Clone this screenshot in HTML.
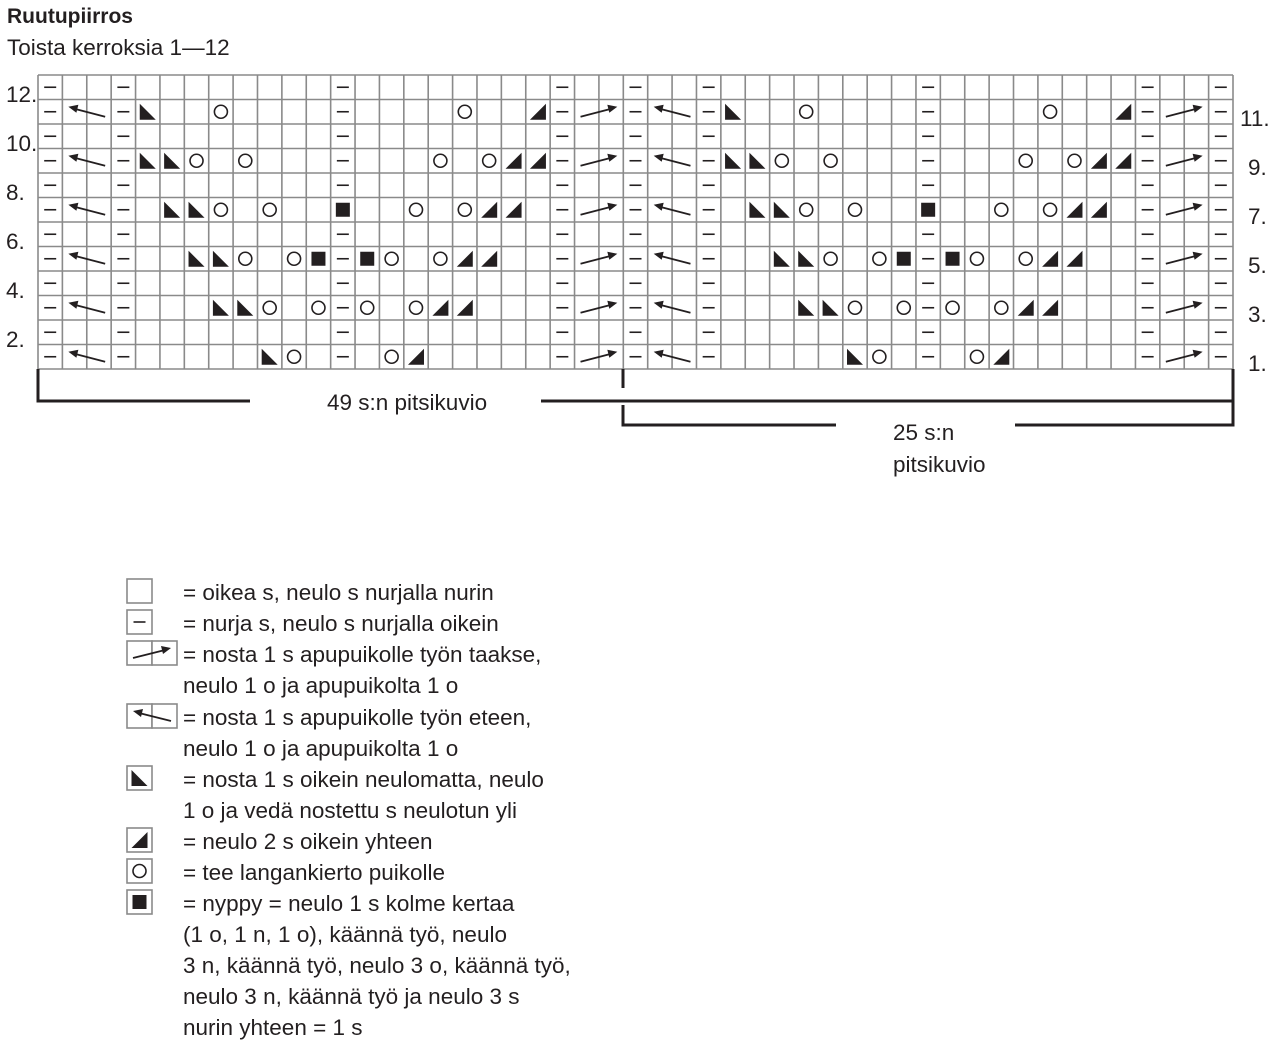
<!DOCTYPE html>
<html><head><meta charset="utf-8">
<style>
html,body{margin:0;padding:0;background:#fff;}
svg{display:block;}
text{font-family:"Liberation Sans",sans-serif;fill:#231f20;}
</style></head>
<body>
<svg id="s" width="1280" height="1047" viewBox="0 0 1280 1047" xmlns="http://www.w3.org/2000/svg">
<text x="7" y="23" font-size="21" font-weight="bold">Ruutupiirros</text>
<text x="7" y="55" font-size="22.5">Toista kerroksia 1—12</text>
<g font-size="22.5">
<text x="6" y="102">12.</text>
<text x="6" y="151">10.</text>
<text x="6" y="200">8.</text>
<text x="6" y="249">6.</text>
<text x="6" y="298">4.</text>
<text x="6" y="347">2.</text>
<text x="1240" y="126">11.</text>
<text x="1248" y="175">9.</text>
<text x="1248" y="224">7.</text>
<text x="1248" y="273">5.</text>
<text x="1248" y="322">3.</text>
<text x="1248" y="371">1.</text>
</g>
<g id="grid"></g>
<g stroke="#231f20" stroke-width="3" fill="none">
<path d="M38,369 V401 H250 M541,401 H1233 V369"/>
<path d="M623,369 V388 M623,405 V425 H836 M1015,425 H1233 V401"/>
</g>
<g font-size="22.5">
<text x="327" y="410">49 s:n pitsikuvio</text>
<text x="893" y="440">25 s:n</text>
<text x="893" y="472">pitsikuvio</text>
</g>
<g id="leg"></g>
<g font-size="22.5">
<text x="183" y="600">= oikea s, neulo s nurjalla nurin</text>
<text x="183" y="631">= nurja s, neulo s nurjalla oikein</text>
<text x="183" y="662">= nosta 1 s apupuikolle työn taakse,</text>
<text x="183" y="693">neulo 1 o ja apupuikolta 1 o</text>
<text x="183" y="725">= nosta 1 s apupuikolle työn eteen,</text>
<text x="183" y="756">neulo 1 o ja apupuikolta 1 o</text>
<text x="183" y="787">= nosta 1 s oikein neulomatta, neulo</text>
<text x="183" y="818">1 o ja vedä nostettu s neulotun yli</text>
<text x="183" y="849">= neulo 2 s oikein yhteen</text>
<text x="183" y="880">= tee langankierto puikolle</text>
<text x="183" y="911">= nyppy = neulo 1 s kolme kertaa</text>
<text x="183" y="942">(1 o, 1 n, 1 o), käännä työ, neulo</text>
<text x="183" y="973">3 n, käännä työ, neulo 3 o, käännä työ,</text>
<text x="183" y="1004">neulo 3 n, käännä työ ja neulo 3 s</text>
<text x="183" y="1035">nurin yhteen = 1 s</text>
</g>
</svg>
<script>
var NS="http://www.w3.org/2000/svg";
function el(p,t,a){var e=document.createElementNS(NS,t);for(var k in a)e.setAttribute(k,a[k]);p.appendChild(e);return e;}
var g=document.getElementById("grid"),L=document.getElementById("leg");
var x0=38,cw=(1233-38)/49,y0=75,rh=(369-75)/12;
var C="#231f20";
function dash(p,cx,cy){el(p,"line",{x1:cx-6,y1:cy,x2:cx+6,y2:cy,stroke:C,"stroke-width":1.6});}
function ring(p,cx,cy){el(p,"circle",{cx:cx,cy:cy,r:6.5,fill:"none",stroke:C,"stroke-width":1.6});}
function sq(p,cx,cy){el(p,"rect",{x:cx-7,y:cy-7,width:14,height:14,fill:C});}
function trL(p,cx,cy){el(p,"polygon",{points:(cx-8)+","+(cy-8)+" "+(cx-8)+","+(cy+8)+" "+(cx+8)+","+(cy+8),fill:C});}
function trR(p,cx,cy){el(p,"polygon",{points:(cx+8)+","+(cy-8)+" "+(cx+8)+","+(cy+8)+" "+(cx-8)+","+(cy+8),fill:C});}
function arrR(p,xl,cy,w){var a=xl+6,b=xl+w-6;el(p,"line",{x1:a,y1:cy+5,x2:b-6,y2:cy-3,stroke:C,"stroke-width":1.8});el(p,"polygon",{points:b+","+(cy-5)+" "+(b-10)+","+(cy-7)+" "+(b-8)+","+(cy+1),fill:C});}
function arrL(p,xl,cy,w){var a=xl+6,b=xl+w-6;el(p,"line",{x1:a+6,y1:cy-3,x2:b,y2:cy+5,stroke:C,"stroke-width":1.8});el(p,"polygon",{points:a+","+(cy-5)+" "+(a+10)+","+(cy-7)+" "+(a+8)+","+(cy+1),fill:C});}
for(var i=0;i<=49;i++){var x=x0+i*cw;el(g,"line",{x1:x,y1:y0,x2:x,y2:369,stroke:"#8a8a8a","stroke-width":1.6});}
for(var j=0;j<=12;j++){var y=y0+j*rh;el(g,"line",{x1:x0,y1:y,x2:1233,y2:y,stroke:"#8a8a8a","stroke-width":1.6});}
var P={
11:[[4,"L"],[7,"o"],[12,"-"],[17,"o"],[20,"R"]],
9:[[4,"L"],[5,"L"],[6,"o"],[8,"o"],[12,"-"],[16,"o"],[18,"o"],[19,"R"],[20,"R"]],
7:[[5,"L"],[6,"L"],[7,"o"],[9,"o"],[12,"s"],[15,"o"],[17,"o"],[18,"R"],[19,"R"]],
5:[[6,"L"],[7,"L"],[8,"o"],[10,"o"],[11,"s"],[12,"-"],[13,"s"],[14,"o"],[16,"o"],[17,"R"],[18,"R"]],
3:[[7,"L"],[8,"L"],[9,"o"],[11,"o"],[12,"-"],[13,"o"],[15,"o"],[16,"R"],[17,"R"]],
1:[[9,"L"],[10,"o"],[12,"-"],[14,"o"],[15,"R"]]
};
for(var r=1;r<=12;r++){
  var cy=y0+(12-r)*rh+rh/2;
  for(var rep=0;rep<2;rep++){
    var off=rep*24;
    if(r%2==0){[0,3,12,21].forEach(function(c){dash(g,x0+(c+off)*cw+cw/2,cy);});}
    else{
      [0,3,21].forEach(function(c){dash(g,x0+(c+off)*cw+cw/2,cy);});
      arrL(g,x0+(1+off)*cw,cy,2*cw);
      arrR(g,x0+(22+off)*cw,cy,2*cw);
      P[r].forEach(function(it){var cx=x0+(it[0]+off)*cw+cw/2;
        if(it[1]=="-")dash(g,cx,cy);else if(it[1]=="o")ring(g,cx,cy);else if(it[1]=="s")sq(g,cx,cy);else if(it[1]=="L")trL(g,cx,cy);else trR(g,cx,cy);});
    }
  }
  dash(g,x0+48*cw+cw/2,cy);
}
function box(x,y,w){el(L,"rect",{x:x,y:y,width:w,height:24,fill:"#fff",stroke:"#8a8a8a","stroke-width":1.6});}
box(127,579,25);
box(127,610,25);dash(L,139.5,622);
box(127,641,25);box(152,641,25);arrR(L,127,653,50);
box(127,704,25);box(152,704,25);arrL(L,127,716,50);
box(127,766,25);trL(L,139.5,778);
box(127,828,25);trR(L,139.5,840);
box(127,859,25);ring(L,139.5,871);
box(127,890,25);sq(L,139.5,902);
</script>
</body></html>
